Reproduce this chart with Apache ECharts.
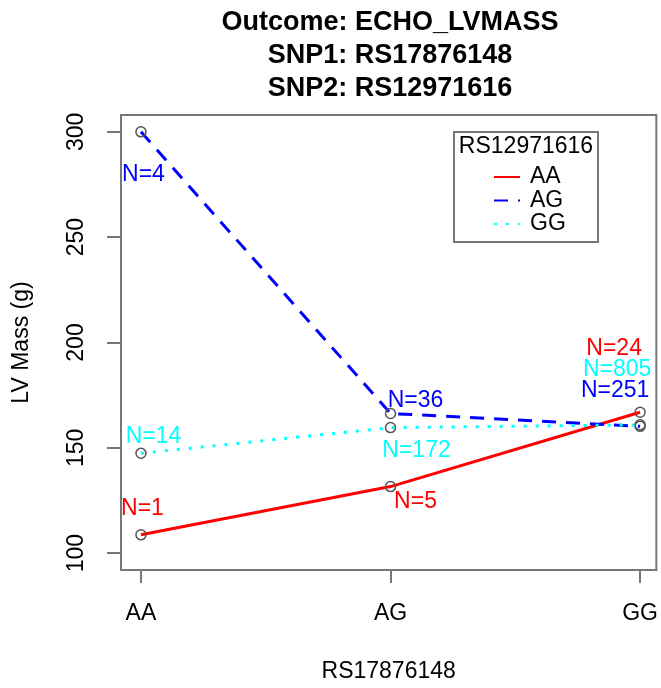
<!DOCTYPE html>
<html>
<head>
<meta charset="utf-8">
<script src="https://cdn.jsdelivr.net/npm/echarts@6/dist/echarts.min.js"></script>
<style>
html,body{margin:0;padding:0;background:#fff;}
#chart{width:661px;height:688px;}
</style>
</head>
<body>
<div id="chart"></div>
<script>
// ---- data ----
const snp1Genotypes = ['AA', 'AG', 'GG'];          // x categories (RS17876148)
const snp2Genotypes = ['AA', 'AG', 'GG'];          // series (RS12971616)
const massAA = [108.7, 131.6, 166.9];
const massAG = [300.0, 166.3, 160.2];
const massGG = [147.4, 159.6, 160.9];
const countAA = [1, 5, 24];
const countAG = [4, 36, 251];
const countGG = [14, 172, 805];
const yTicks = [100, 150, 200, 250, 300];
const xTicks = [1, 2, 3];

// ---- styles ----
const FONT = '"Liberation Sans", Arial, Helvetica, sans-serif';
const AXIS_GREY = '#777';
const colors = ['#ff0000', '#0000ff', '#00ffff'];
const lineTypes = ['solid', [14, 10], [3, 9]];
const labelOffsets = [
  [[1.5, -26], [25, 15], [-26, -64]],
  [[2.5, 43], [25, -13], [-25, -36]],
  [[12.5, -17], [26, 23], [-23, -55]]
];
const masses = [massAA, massAG, massGG];
const counts = [countAA, countAG, countGG];

const series = snp2Genotypes.map((g, si) => ({
  name: g,
  type: 'line',
  data: masses[si].map((v, i) => ({
    value: [xTicks[i], v],
    n: counts[si][i],
    label: { offset: labelOffsets[si][i] }
  })),
  symbol: 'circle',
  symbolSize: 10,
  itemStyle: { color: 'rgba(0,0,0,0)', borderColor: '#555', borderWidth: 1.5 },
  lineStyle: { color: colors[si], width: 3, type: lineTypes[si], cap: 'butt' },
  label: {
    show: true,
    position: 'inside',
    formatter: p => 'N=' + p.data.n,
    color: colors[si],
    fontFamily: FONT,
    fontSize: 23,
    align: 'center',
    verticalAlign: 'middle'
  },
  emphasis: { disabled: true },
  animation: false,
  z: 2 + si
}));

const chart = echarts.init(document.getElementById('chart'), null, { renderer: 'canvas' });
chart.setOption({
  animation: false,
  backgroundColor: '#fff',
  title: [{
    text: 'Outcome: ECHO_LVMASS\nSNP1: RS17876148\nSNP2: RS12971616',
    left: 390,
    top: 6,
    padding: 0,
    textAlign: 'center',
    textStyle: { fontFamily: FONT, fontSize: 27, fontWeight: 'bold', color: '#000', lineHeight: 33 }
  }, {
    text: 'RS12971616',
    left: 526,
    top: 135,
    padding: 0,
    textAlign: 'center',
    textStyle: { fontFamily: FONT, fontSize: 23, fontWeight: 'normal', color: '#000', lineHeight: 24 }
  }],
  graphic: [{
    type: 'rect',
    shape: { x: 454, y: 132, width: 144, height: 110 },
    style: { fill: 'rgba(0,0,0,0)', stroke: AXIS_GREY, lineWidth: 2 },
    z: 1
  }],
  legend: {
    data: snp2Genotypes,
    orient: 'vertical',
    left: 493,
    top: 165.5,
    padding: 0,
    itemWidth: 26,
    itemHeight: 14,
    itemGap: 0.5,
    itemStyle: { opacity: 0 },
    textStyle: { fontFamily: FONT, fontSize: 23, color: '#000', lineHeight: 21, padding: [0, 0, 0, 5] },
    selectedMode: false
  },
  grid: {
    left: 121, top: 115, width: 537, height: 456,
    show: true, borderColor: AXIS_GREY, borderWidth: 2,
    containLabel: false
  },
  xAxis: {
    type: 'value',
    min: 0.92,
    max: 3.065,
    name: 'RS17876148',
    nameLocation: 'middle',
    nameGap: 90,
    nameTextStyle: { fontFamily: FONT, fontSize: 23, color: '#000' },
    axisLine: { show: true, lineStyle: { color: AXIS_GREY, width: 2 } },
    axisTick: { show: true, length: 13, customValues: xTicks, lineStyle: { color: AXIS_GREY, width: 2 } },
    axisLabel: {
      customValues: xTicks,
      formatter: v => snp1Genotypes[Math.round(v) - 1] || '',
      fontFamily: FONT, fontSize: 23, color: '#000', margin: 32
    },
    splitLine: { show: false }
  },
  yAxis: {
    type: 'value',
    min: 92,
    max: 308,
    name: 'LV Mass (g)',
    nameLocation: 'middle',
    nameGap: 88,
    nameTextStyle: { fontFamily: FONT, fontSize: 23, color: '#000' },
    axisLine: { show: true, lineStyle: { color: AXIS_GREY, width: 2 } },
    axisTick: { show: true, length: 14, customValues: yTicks, lineStyle: { color: AXIS_GREY, width: 2 } },
    axisLabel: {
      customValues: yTicks,
      rotate: 90,
      fontFamily: FONT, fontSize: 23, color: '#000', margin: 33
    },
    splitLine: { show: false }
  },
  series: series
});
</script>
</body>
</html>
